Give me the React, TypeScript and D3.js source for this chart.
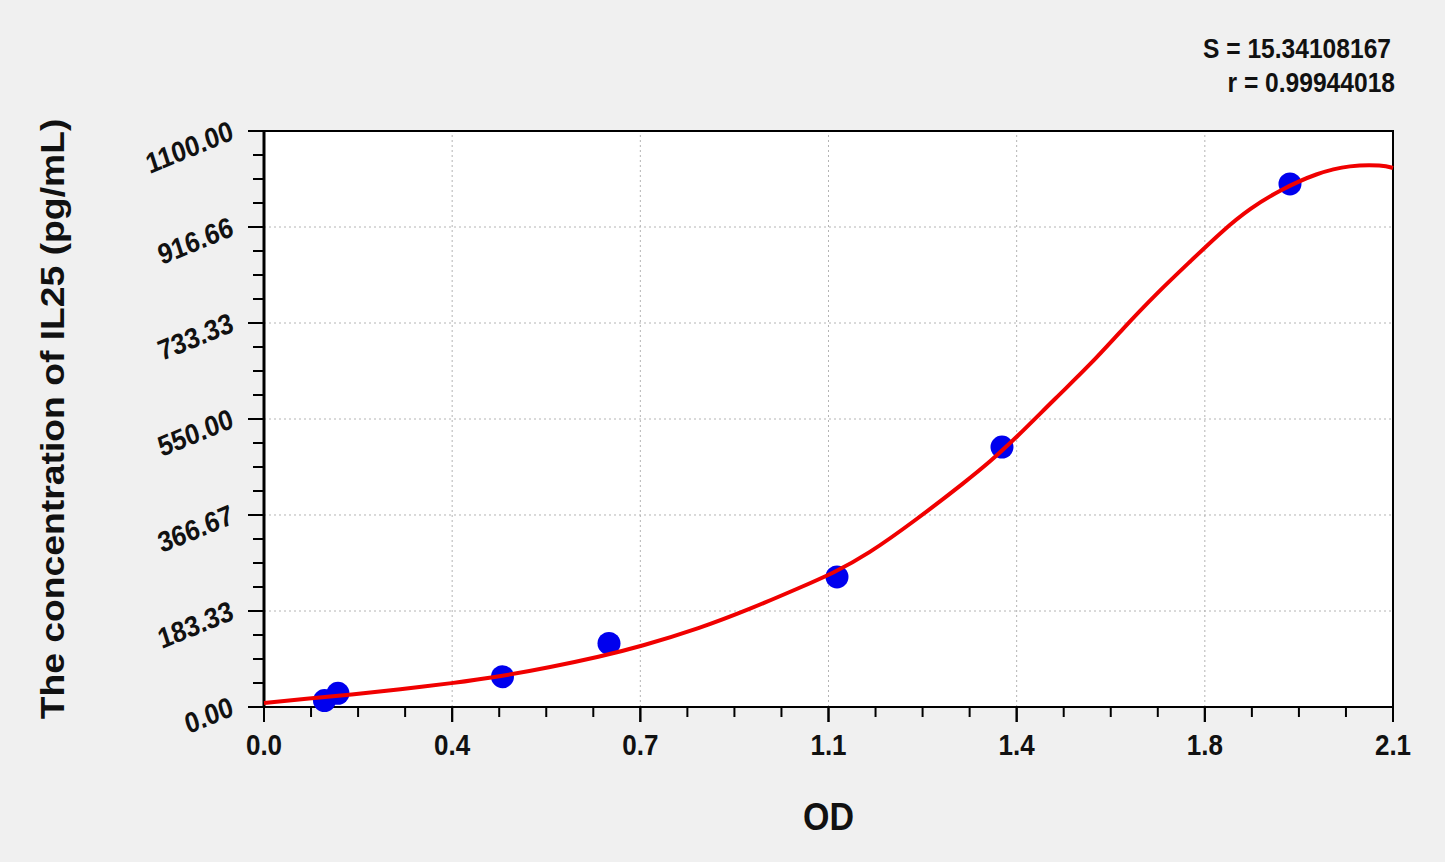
import React, { useEffect, useRef } from 'react';
import * as d3 from 'd3';

// standard points (OD, concentration)
const pointOD = [0.1125, 0.1376, 0.4436, 0.6417, 1.0658, 1.3727, 1.9084];
const pointConc = [12.4, 26.2, 57.9, 121.3, 248.3, 496.5, 998.8];

// fitted curve
const curveOD = [0, 0.0856, 0.16, 0.253, 0.3497, 0.4408, 0.532, 0.625, 0.6994, 0.811, 0.904, 0.997, 1.059, 1.121, 1.214, 1.307, 1.35, 1.399, 1.4744, 1.5364, 1.5983, 1.6605, 1.7224, 1.7843, 1.834, 1.8898, 1.9586, 2.02, 2.0814, 2.1];
const curveConc = [7.5, 16.6, 23, 33.8, 45.3, 58.5, 75.8, 96.1, 115.2, 150.3, 187, 228, 256, 290, 358, 432, 468, 514, 592, 653.1, 723.2, 790.0, 850.4, 911.0, 952.4, 987.3, 1019.8, 1035, 1035, 1029.3];

const xTicks = [0, 0.35, 0.7, 1.05, 1.4, 1.75, 2.1];
const xTickLabels = ['0.0', '0.4', '0.7', '1.1', '1.4', '1.8', '2.1'];
const yTicks = [0, 183.33, 366.67, 550, 733.33, 916.66, 1100];
const yTickLabels = ['0.00', '183.33', '366.67', '550.00', '733.33', '916.66', '1100.00'];

const statLines = ['S = 15.34108167', 'r = 0.99944018'];

const W = 1445;
const H = 862;
const STRETCH = 1.13; // glyphs in the picture are a bit taller than wide

export default function App() {
  const svgRef = useRef<SVGSVGElement>(null);

  useEffect(() => {
    if (!svgRef.current) return;
    const svg = d3.select(svgRef.current);
    svg.selectAll('*').remove();

    const margin = { top: 131, right: 52, bottom: 155, left: 264 };
    const x = d3.scaleLinear().domain([0, 2.1]).range([margin.left, W - margin.right]);
    const y = d3.scaleLinear().domain([0, 1100]).range([H - margin.bottom, margin.top]);
    const font = '"Liberation Sans", Arial, sans-serif';

    svg.append('rect').attr('width', W).attr('height', H).attr('fill', '#f0f0f0');
    svg.append('rect')
      .attr('x', x(0)).attr('y', y(1100))
      .attr('width', x(2.1) - x(0)).attr('height', y(0) - y(1100))
      .attr('fill', '#ffffff');

    // grid
    const grid = svg.append('g').attr('stroke', '#b4b4b4').attr('stroke-width', 1).attr('stroke-dasharray', '2,3');
    xTicks.slice(1, -1).forEach(t => {
      grid.append('line').attr('x1', x(t)).attr('x2', x(t)).attr('y1', y(0)).attr('y2', y(1100));
    });
    yTicks.slice(1, -1).forEach(t => {
      grid.append('line').attr('x1', x(0)).attr('x2', x(2.1)).attr('y1', y(t)).attr('y2', y(t));
    });

    // ticks, 4 subdivisions per major step
    const ticks = svg.append('g').attr('stroke', '#000').attr('stroke-width', 2);
    for (let i = 0; i < xTicks.length - 1; i++) {
      const step = (xTicks[i + 1] - xTicks[i]) / 4;
      for (let j = 0; j <= 4; j++) {
        const v = xTicks[i] + step * j;
        const len = j === 0 || j === 4 ? 15 : 10;
        ticks.append('line').attr('x1', x(v)).attr('x2', x(v)).attr('y1', y(0)).attr('y2', y(0) + len);
      }
    }
    for (let i = 0; i < yTicks.length - 1; i++) {
      const step = (yTicks[i + 1] - yTicks[i]) / 4;
      for (let j = 0; j <= 4; j++) {
        const v = yTicks[i] + step * j;
        const len = j === 0 || j === 4 ? 16 : 11;
        ticks.append('line').attr('x1', x(0) - len).attr('x2', x(0)).attr('y1', y(v)).attr('y2', y(v));
      }
    }

    // frame
    svg.append('rect')
      .attr('x', x(0)).attr('y', y(1100))
      .attr('width', x(2.1) - x(0)).attr('height', y(0) - y(1100))
      .attr('fill', 'none').attr('stroke', '#000').attr('stroke-width', 2);
    svg.append('line').attr('x1', x(0)).attr('x2', x(0)).attr('y1', y(1100) - 1).attr('y2', y(0) + 1)
      .attr('stroke', '#000').attr('stroke-width', 3);

    // labels
    const txt = (tx: number, ty: number, s: string, size: number, anchor: string, rot = 0) =>
      svg.append('text')
        .attr('transform', `translate(${tx},${ty}) scale(1,${STRETCH}) rotate(${rot})`)
        .attr('text-anchor', anchor)
        .attr('font-family', font).attr('font-weight', 'bold').attr('font-size', size)
        .attr('fill', '#111')
        .text(s);

    xTicks.forEach((t, i) => txt(x(t), y(0) + 48, xTickLabels[i], 26, 'middle'));
    yTicks.forEach((t, i) => txt(x(0) - 29, y(t) + 8, yTickLabels[i], 25.5, 'end', -20));

    txt(x(1.05), 830, 'OD', 34, 'middle');
    txt(64, (y(0) + y(1100)) / 2, 'The concentration of IL25 (pg/mL)', 33, 'middle', -90);

    txt(1391, 58, statLines[0], 24.6, 'end');
    txt(1395, 92, statLines[1], 24.6, 'end');

    // fitted curve
    const curve = curveOD.map((v, i) => [v, curveConc[i]] as [number, number]);
    const line = d3.line<[number, number]>()
      .x(d => x(d[0]))
      .y(d => y(d[1]))
      .curve(d3.curveBasis);

    // standards
    svg.append('g').selectAll('circle')
      .data(pointOD.map((v, i) => [v, pointConc[i]]))
      .enter().append('circle')
      .attr('cx', d => x(d[0]))
      .attr('cy', d => y(d[1]))
      .attr('r', 11.5)
      .attr('fill', '#0000ee');

    // the curve sits on top of the dots
    svg.append('path').datum(curve)
      .attr('d', line)
      .attr('fill', 'none').attr('stroke', '#f00000').attr('stroke-width', 4)
      .attr('stroke-linejoin', 'round');
  }, []);

  return (
    <svg
      ref={svgRef}
      width={W}
      height={H}
      style={{ position: 'absolute', left: 0, top: 0, display: 'block' }}
    />
  );
}
